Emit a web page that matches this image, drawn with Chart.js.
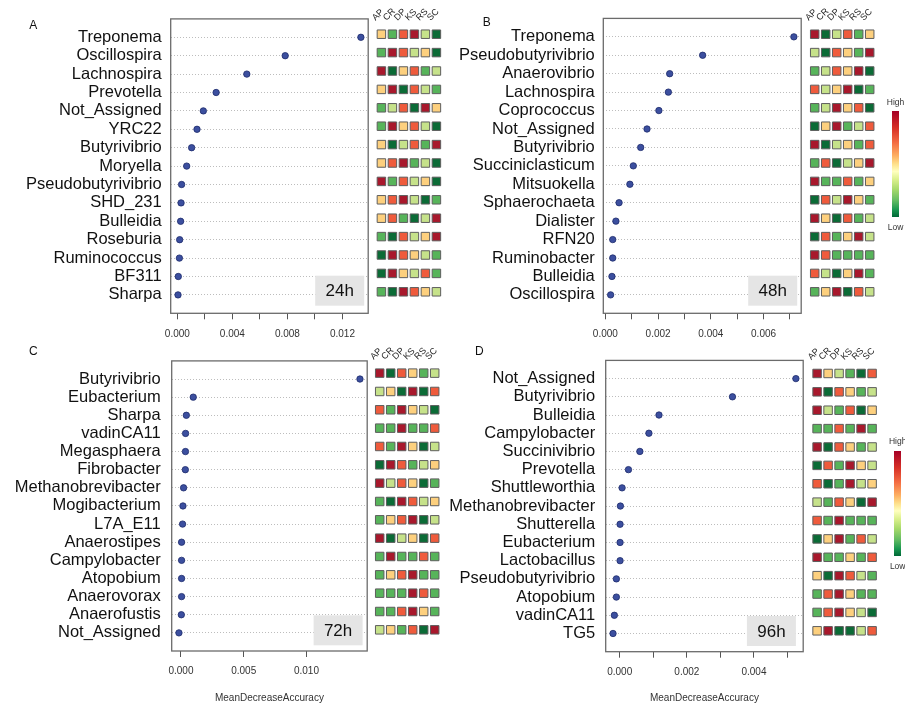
<!DOCTYPE html>
<html>
<head>
<meta charset="utf-8">
<script src="https://cdn.jsdelivr.net/npm/chart.js@4.4.1/dist/chart.umd.min.js"></script>
<style>
  html, body { margin: 0; padding: 0; background: #fff; }
  #page { position: relative; width: 905px; height: 704px; overflow: hidden;
          font-family: "Liberation Sans", Arial, sans-serif; }
  #page canvas { position: absolute; }
  .txt { position: absolute; transform: translate(-50%, -50%); white-space: nowrap; line-height: 1; color: #222; }
  .bar { position: absolute; border: none;
         background: linear-gradient(to bottom, #a50026 0%, #d73027 16%, #f46d43 30%, #fdae61 42%,
                     #fee08b 50%, #ffffbf 57%, #d9ef8b 65%, #a6d96a 74%, #66bd63 84%, #1a9850 93%, #006837 100%); }
</style>
</head>
<body>
<div id="page"></div>
<script>
// kolommen van de heatmap
const cols = ['AP', 'CR', 'DP', 'KS', 'RS', 'SC'];

// niveau 1 (laag, donkergroen) .. 6 (hoog, donkerrood)
const levelColors = ['#0b6b36', '#57b45a', '#c6e28a', '#fdd07e', '#ef5b3c', '#a8182c'];

// --- 24h ---
const taxaA = ['Treponema', 'Oscillospira', 'Lachnospira', 'Prevotella', 'Not_Assigned', 'YRC22',
  'Butyrivibrio', 'Moryella', 'Pseudobutyrivibrio', 'SHD_231', 'Bulleidia', 'Roseburia',
  'Ruminococcus', 'BF311', 'Sharpa'];
const valsA = [0.01334, 0.00784, 0.00505, 0.00282, 0.00189, 0.00143, 0.00104, 0.00068,
  0.00031, 0.00027, 0.00024, 0.00017, 0.00015, 0.00007, 0.00005];
const heatA = [
  [4, 2, 5, 6, 3, 1], [2, 6, 5, 3, 4, 1], [6, 1, 4, 5, 2, 3], [4, 6, 1, 5, 3, 2],
  [2, 3, 5, 1, 6, 4], [2, 6, 4, 5, 3, 1], [4, 1, 3, 5, 2, 6], [4, 5, 6, 2, 3, 1],
  [6, 2, 5, 3, 4, 1], [4, 5, 6, 3, 1, 2], [4, 5, 2, 1, 3, 6], [2, 1, 5, 3, 4, 6],
  [1, 6, 5, 4, 3, 2], [1, 6, 4, 3, 5, 2], [2, 1, 6, 5, 4, 3]];
const ticksA = [0, 0.002, 0.004, 0.006, 0.008, 0.010, 0.012];
const tickLabelsA = ['0.000', '', '0.004', '', '0.008', '', '0.012'];

// --- 48h ---
const taxaB = ['Treponema', 'Pseudobutyrivibrio', 'Anaerovibrio', 'Lachnospira', 'Coprococcus',
  'Not_Assigned', 'Butyrivibrio', 'Succiniclasticum', 'Mitsuokella', 'Sphaerochaeta', 'Dialister',
  'RFN20', 'Ruminobacter', 'Bulleidia', 'Oscillospira'];
const valsB = [0.00715, 0.00369, 0.00244, 0.00239, 0.00203, 0.00158, 0.00134, 0.00106,
  0.00093, 0.00052, 0.00040, 0.00028, 0.00028, 0.00025, 0.00020];
const heatB = [
  [6, 1, 3, 5, 2, 4], [3, 1, 5, 4, 2, 6], [2, 3, 5, 4, 6, 1], [5, 3, 4, 6, 1, 2],
  [2, 3, 6, 4, 5, 1], [1, 4, 6, 2, 3, 5], [6, 1, 3, 4, 2, 5], [2, 5, 1, 3, 4, 6],
  [6, 2, 2, 5, 2, 4], [1, 5, 3, 6, 4, 2], [6, 4, 1, 5, 2, 3], [1, 5, 2, 4, 6, 3],
  [6, 5, 2, 2, 2, 2], [5, 3, 1, 4, 6, 2], [2, 4, 6, 1, 5, 3]];
const ticksB = [0, 0.001, 0.002, 0.003, 0.004, 0.005, 0.006, 0.007];
const tickLabelsB = ['0.000', '', '0.002', '', '0.004', '', '0.006', ''];

// --- 72h ---
const taxaC = ['Butyrivibrio', 'Eubacterium', 'Sharpa', 'vadinCA11', 'Megasphaera', 'Fibrobacter',
  'Methanobrevibacter', 'Mogibacterium', 'L7A_E11', 'Anaerostipes', 'Campylobacter', 'Atopobium',
  'Anaerovorax', 'Anaerofustis', 'Not_Assigned'];
const valsC = [0.01426, 0.00098, 0.00043, 0.00037, 0.00036, 0.00035, 0.00021, 0.00016,
  0.00013, 0.00005, 0.00005, 0.00005, 0.00005, 0.00003, -0.00016];
const heatC = [
  [6, 1, 5, 4, 2, 3], [3, 4, 1, 6, 1, 5], [5, 2, 6, 4, 3, 1], [2, 2, 6, 2, 2, 5],
  [5, 2, 6, 4, 1, 3], [1, 6, 5, 2, 3, 4], [6, 3, 5, 4, 1, 2], [2, 1, 6, 5, 3, 4],
  [2, 4, 5, 6, 1, 3], [6, 1, 3, 4, 1, 5], [2, 6, 2, 2, 5, 2], [2, 4, 5, 6, 2, 2],
  [2, 2, 2, 6, 5, 2], [2, 2, 5, 6, 4, 2], [3, 4, 2, 5, 1, 6]];
const ticksC = [0, 0.005, 0.010];
const tickLabelsC = ['0.000', '0.005', '0.010'];

// --- 96h ---
const taxaD = ['Not_Assigned', 'Butyrivibrio', 'Bulleidia', 'Campylobacter', 'Succinivibrio',
  'Prevotella', 'Shuttleworthia', 'Methanobrevibacter', 'Shutterella', 'Eubacterium',
  'Lactobacillus', 'Pseudobutyrivibrio', 'Atopobium', 'vadinCA11', 'TG5'];
const valsD = [0.00525, 0.00336, 0.00117, 0.00087, 0.00060, 0.00026, 0.00007, 0.00002,
  0.00001, 0.00001, 0.00001, -0.00010, -0.00010, -0.00016, -0.00020];
const heatD = [
  [6, 4, 3, 2, 1, 5], [6, 1, 5, 4, 2, 3], [6, 3, 2, 5, 1, 4], [2, 2, 5, 2, 6, 2],
  [6, 1, 5, 4, 2, 3], [1, 5, 2, 6, 4, 3], [5, 1, 2, 6, 3, 4], [3, 2, 5, 4, 1, 6],
  [5, 2, 6, 2, 2, 2], [1, 4, 6, 2, 5, 3], [6, 2, 2, 4, 2, 5], [4, 1, 6, 5, 3, 2],
  [2, 5, 6, 4, 2, 2], [2, 5, 6, 4, 3, 1], [4, 6, 1, 1, 3, 5]];
const ticksD = [0, 0.001, 0.002, 0.003, 0.004, 0.005];
const tickLabelsD = ['0.000', '', '0.002', '', '0.004', ''];

// plaatsing van de vier panelen (box = l, t, r, b van het plotkader)
const panels = [
  { taxa: taxaA, vals: valsA, heat: heatA, ticks: ticksA, tickLabels: tickLabelsA, tag: '24h',
    ox: 0, oy: 0, h: 340, box: [170.7, 15.7, 368.3, 313.3], gap: 9, inset: [4, 7.6], heatLeft: 375.9, title: false },
  { taxa: taxaB, vals: valsB, heat: heatB, ticks: ticksB, tickLabels: tickLabelsB, tag: '48h',
    ox: 450, oy: 0, h: 340, box: [603.3, 15.7, 801.7, 313.3], gap: 8.5, inset: [4, 7.6], heatLeft: 809.2, title: false },
  { taxa: taxaC, vals: valsC, heat: heatC, ticks: ticksC, tickLabels: tickLabelsC, tag: '72h',
    ox: 0, oy: 340, h: 364, box: [171.7, 354.7, 367.3, 651], gap: 11, inset: [4.6, 5.7], heatLeft: 374.2, title: true },
  { taxa: taxaD, vals: valsD, heat: heatD, ticks: ticksD, tickLabels: tickLabelsD, tag: '96h',
    ox: 450, oy: 340, h: 364, box: [605.7, 355, 803.3, 651.7], gap: 10.5, inset: [7.3, 5.7], heatLeft: 811.6, title: true },
];

const page = document.getElementById('page');
Chart.defaults.font.family = '"Liberation Sans", Arial, sans-serif';
Chart.defaults.color = '#333';

function addCanvas(left, top, w, h) {
  const c = document.createElement('canvas');
  c.width = w; c.height = h;
  c.style.left = left + 'px'; c.style.top = top + 'px';
  c.style.width = w + 'px'; c.style.height = h + 'px';
  page.appendChild(c);
  return c;
}

function addText(text, x, y, size, extra) {
  const d = document.createElement('div');
  d.className = 'txt';
  d.textContent = text;
  d.style.left = x + 'px'; d.style.top = y + 'px'; d.style.fontSize = size + 'px';
  if (extra) Object.assign(d.style, extra);
  page.appendChild(d);
}

// kader + tijdlabel rechtsonder
const framePlugin = {
  id: 'frame',
  afterDraw(chart, args, opts) {
    const { ctx, chartArea: a } = chart;
    ctx.save();
    const bw = 49, bh = 30;
    const bx = a.right - opts.inset[0] - bw, by = a.bottom - opts.inset[1] - bh;
    ctx.fillStyle = '#e5e5e5';
    ctx.fillRect(bx, by, bw, bh);
    ctx.fillStyle = '#111';
    ctx.font = '17px "Liberation Sans", Arial, sans-serif';
    ctx.textAlign = 'center';
    ctx.textBaseline = 'middle';
    ctx.fillText(opts.tag, bx + bw / 2, by + bh / 2 + 1);
    ctx.strokeStyle = '#6b6b6b';
    ctx.lineWidth = 1.3;
    ctx.strokeRect(a.left, a.top, a.right - a.left, a.bottom - a.top);
    ctx.restore();
  }
};

function dotChart(p) {
  const [l, t, r, b] = p.box;
  const w = Math.ceil(r + 4 - p.ox);
  const axisH = p.oy + p.h - b;
  // R dotchart: bereik met 4% marge
  const lo = Math.min(...p.vals), hi = Math.max(...p.vals);
  const xmin = lo - 0.04 * (hi - lo), xmax = hi + 0.04 * (hi - lo);
  const canvas = addCanvas(p.ox, p.oy, w, p.h);

  new Chart(canvas, {
    type: 'scatter',
    data: {
      datasets: [{
        data: p.vals.map((v, i) => ({ x: v, y: i })),
        pointRadius: 3.2,
        backgroundColor: '#3c4f9f',
        borderColor: '#1d2b6b',
        borderWidth: 0.8,
      }],
    },
    options: {
      responsive: false,
      animation: false,
      events: [],
      layout: { padding: { left: 0, top: t - p.oy, right: p.ox + w - r, bottom: 0 } },
      plugins: {
        legend: { display: false },
        tooltip: { enabled: false },
        frame: { tag: p.tag, inset: p.inset },
      },
      scales: {
        x: {
          type: 'linear', min: xmin, max: xmax,
          afterFit: s => { s.height = axisH; },
          afterBuildTicks: s => { s.ticks = p.ticks.map(v => ({ value: v })); },
          ticks: {
            autoSkip: false, maxRotation: 0, padding: 8.5,
            font: { size: 10 }, color: '#333',
            callback: (v, i) => p.tickLabels[i],
          },
          grid: { drawOnChartArea: false, drawTicks: true, tickLength: 6, tickColor: '#555' },
          border: { display: false },
          title: {
            display: p.title, text: 'MeanDecreaseAccuracy',
            font: { size: 10 }, color: '#333', padding: { top: 0, bottom: 0 },
          },
        },
        y: {
          type: 'linear', min: -1, max: p.taxa.length, reverse: true,
          afterFit: s => { s.width = l - p.ox; },
          afterBuildTicks: s => { s.ticks = p.taxa.map((n, i) => ({ value: i })); },
          ticks: {
            autoSkip: false, padding: p.gap,
            font: { size: 16.5 }, color: '#111',
            callback: (v, i) => p.taxa[i],
          },
          grid: { drawTicks: false, color: '#bdbdbd', lineWidth: 1 },
          border: { display: false, dash: [1, 2] },
        },
      },
    },
    plugins: [framePlugin],
  });
}

function heatChart(p) {
  const [l, t, r, b] = p.box;
  const rowH = (b - t) / (p.taxa.length + 1);
  const top = t + rowH / 2, bottom = b - rowH / 2;
  const cw = 66;
  const left = Math.floor(p.heatLeft - 8);
  const padL = p.heatLeft - left, padR = 14;
  const h = Math.ceil(bottom - p.oy) + 4;
  const canvas = addCanvas(left, p.oy, Math.ceil(padL + cw + padR), h);

  const points = [], fills = [];
  p.heat.forEach((row, i) => row.forEach((lv, j) => {
    points.push({ x: cols[j], y: i });
    fills.push(levelColors[lv - 1]);
  }));

  new Chart(canvas, {
    type: 'scatter',
    data: {
      datasets: [{
        data: points,
        pointStyle: 'rect',
        pointRadius: 6,
        borderWidth: 1,
        borderColor: '#5e5e5e',
        backgroundColor: fills,
      }],
    },
    options: {
      responsive: false,
      animation: false,
      events: [],
      layout: { padding: { left: padL, right: Math.ceil(padL + cw + padR) - padL - cw, top: 0, bottom: h - (bottom - p.oy) } },
      plugins: { legend: { display: false }, tooltip: { enabled: false } },
      scales: {
        x: {
          type: 'category', labels: cols, offset: true, position: 'top',
          afterFit: s => { s.height = top - p.oy; },
          ticks: { minRotation: 45, maxRotation: 45, padding: 2, autoSkip: false, font: { size: 9 }, color: '#222' },
          grid: { display: false, drawTicks: false },
          border: { display: false },
        },
        y: { type: 'linear', min: -0.5, max: p.taxa.length - 0.5, reverse: true, display: false },
      },
    },
  });
}

panels.forEach(p => { dotChart(p); heatChart(p); });

// paneelletters
addText('A', 33.3, 25, 12, { color: '#111' });
addText('B', 486.7, 21.7, 12, { color: '#111' });
addText('C', 33.3, 350.7, 12, { color: '#111' });
addText('D', 479.3, 350.7, 12, { color: '#111' });

// kleurlegenda's (B en D)
function legend(x, y, w, h, hy, ly) {
  const bar = document.createElement('div');
  bar.className = 'bar';
  Object.assign(bar.style, { left: x + 'px', top: y + 'px', width: w + 'px', height: h + 'px' });
  page.appendChild(bar);
  addText('High', x + w / 2, hy, 8.5, { color: '#333' });
  addText('Low', x + w / 2, ly, 8.5, { color: '#333' });
}
legend(891.7, 110.7, 7.6, 106.6, 102.3, 226.7);
legend(894.2, 450.7, 7, 105.3, 441, 566);
</script>
</body>
</html>
